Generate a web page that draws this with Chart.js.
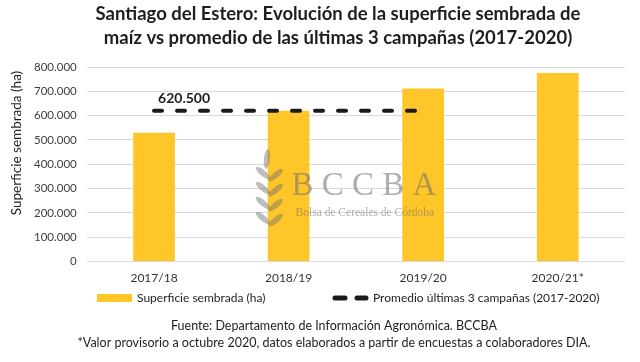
<!DOCTYPE html>
<html>
<head>
<meta charset="utf-8">
<script src="https://cdn.jsdelivr.net/npm/chart.js@4.4.0/dist/chart.umd.min.js"></script>
<style>
  html, body { margin: 0; padding: 0; background: #fff; }
  #wrap { width: 640px; height: 362px; }
</style>
</head>
<body>
<div id="wrap"><canvas id="maizChart"></canvas></div>
<script>
// Superficie sembrada de maíz, Santiago del Estero (ha)
const campaigns = ['2017/18', '2018/19', '2019/20', '2020/21*'];
const plantedArea = [530000, 620000, 711500, 775000];
// promedio de las tres primeras campañas, sin valor para 2020/21
const threeYearAverage = [620500, 620500, 620500, null];
const yTickValues = [0, 100000, 200000, 300000, 400000, 500000, 600000, 700000, 800000];

const titleLines = [
    'Santiago del Estero: Evolución de la superficie sembrada de',
    'maíz vs promedio de las últimas 3 campañas (2017-2020)'
];
const yAxisTitle = 'Superficie sembrada (ha)';
const seriesNames = ['Superficie sembrada (ha)', 'Promedio últimas 3 campañas (2017-2020)'];
const footerLines = [
    'Fuente: Departamento de Información Agronómica. BCCBA',
    '*Valor provisorio a octubre 2020, datos elaborados a partir de encuestas a colaboradores DIA.'
];

const FONT = 'Lato, "Open Sans", sans-serif';
const BAR_COLOR = '#FFC629';

const fmt = (v) => String(v).replace(/\B(?=(\d{3})+(?!\d))/g, '.');

// title, y title, legend and footer are drawn by hand to keep the excel layout
const textPlugin = {
    id: 'textLayer',
    afterDraw(chart) {
        const ctx = chart.ctx;
        ctx.save();
        ctx.textBaseline = 'middle';

        ctx.fillStyle = '#1e1e1e';
        ctx.font = 'bold 18.5px ' + FONT;
        ctx.textAlign = 'center';
        titleLines.forEach((line, i) => ctx.fillText(line, 338, 14 + i * 24));

        ctx.save();
        ctx.translate(17, 143);
        ctx.rotate(-Math.PI / 2);
        ctx.font = '13.5px ' + FONT;
        ctx.fillText(yAxisTitle, 0, 0);
        ctx.restore();

        // legend
        const ly = 298;
        ctx.font = '12px ' + FONT;
        ctx.textAlign = 'left';
        ctx.fillStyle = chart.data.datasets[0].backgroundColor;
        ctx.fillRect(97, ly - 4, 35, 8);
        ctx.fillStyle = '#1e1e1e';
        ctx.fillText(seriesNames[0], 137, ly);

        const lineDs = chart.data.datasets[1];
        ctx.strokeStyle = lineDs.borderColor;
        ctx.lineWidth = lineDs.borderWidth + 1;
        ctx.lineCap = 'round';
        ctx.beginPath();
        ctx.moveTo(335, ly); ctx.lineTo(345, ly);
        ctx.moveTo(357, ly); ctx.lineTo(366, ly);
        ctx.stroke();
        ctx.fillText(seriesNames[1], 373, ly);

        // footer
        ctx.textAlign = 'center';
        ctx.font = '12.5px ' + FONT;
        footerLines.forEach((line, i) => ctx.fillText(line, 334, 326 + i * 17));
        ctx.restore();
    }
};

// watermark of the Bolsa de Cereales and the label of the average line
const overlayPlugin = {
    id: 'overlay',
    afterDatasetsDraw(chart) {
        const ctx = chart.ctx;
        const area = chart.chartArea;
        const cx = (area.left + area.right) / 2;
        ctx.save();

        // wheat leaves
        ctx.fillStyle = 'rgba(110, 110, 110, 0.45)';
        const sx = cx - 87;
        for (let i = 0; i < 4; i++) {
            const y = area.top + 106 + i * 15;
            ctx.beginPath();
            ctx.ellipse(sx - 6, y, 9, 3, 0.7, 0, Math.PI * 2);
            ctx.fill();
            ctx.beginPath();
            ctx.ellipse(sx + 7, y + 2, 9, 3, -0.7, 0, Math.PI * 2);
            ctx.fill();
        }
        ctx.beginPath();
        ctx.ellipse(sx - 2, area.top + 92, 3, 10, 0.1, 0, Math.PI * 2);
        ctx.fill();

        ctx.fillStyle = 'rgba(110, 110, 110, 0.55)';
        ctx.textAlign = 'center';
        ctx.textBaseline = 'alphabetic';
        ctx.font = '33px "Liberation Serif", serif';
        ctx.fillText('B C C B A', cx + 8, area.top + 128);
        ctx.font = '11.5px "Liberation Serif", serif';
        ctx.fillText('Bolsa de Cereales de Córdoba', cx + 9, area.top + 149);

        // value label of the average
        const pt = chart.getDatasetMeta(1).data[0];
        ctx.fillStyle = '#1e1e1e';
        ctx.font = 'bold 14px ' + FONT;
        ctx.textAlign = 'left';
        ctx.textBaseline = 'middle';
        ctx.fillText(fmt(threeYearAverage[0]), pt.x + 4, pt.y - 12);
        ctx.restore();
    }
};

const ctx = document.getElementById('maizChart').getContext('2d');
const chart = new Chart(ctx, {
    data: {
        labels: campaigns,
        datasets: [
            {
                type: 'bar',
                label: seriesNames[0],
                data: plantedArea,
                backgroundColor: BAR_COLOR,
                categoryPercentage: 1,
                barPercentage: 0.31,
                order: 2,
            },
            {
                type: 'line',
                label: seriesNames[1],
                data: threeYearAverage,
                borderColor: '#1a1a1a',
                borderWidth: 4,
                borderDash: [8, 15],
                borderCapStyle: 'round',
                pointRadius: 0,
                spanGaps: false,
                order: 1,
            }
        ]
    },
    options: {
        responsive: true,
        maintainAspectRatio: false,
        animation: false,
        layout: {
            padding: { top: 67, bottom: 68, left: 24, right: 15 }
        },
        scales: {
            x: {
                grid: { display: false, drawTicks: false },
                border: { display: false },
                ticks: {
                    padding: 9,
                    color: '#333',
                    font: { family: FONT, size: 12 }
                }
            },
            y: {
                min: 0,
                max: 800000,
                afterBuildTicks: (scale) => {
                    scale.ticks = yTickValues.map(v => ({ value: v }));
                },
                grid: { color: '#d9d9d9', drawTicks: false },
                border: { display: false },
                ticks: {
                    padding: 10,
                    color: '#404040',
                    font: { family: FONT, size: 11.5 },
                    callback: (value) => fmt(value)
                }
            }
        },
        plugins: {
            legend: { display: false },
            title: { display: false },
            tooltip: { enabled: false }
        }
    },
    plugins: [overlayPlugin, textPlugin]
});
</script>
</body>
</html>
